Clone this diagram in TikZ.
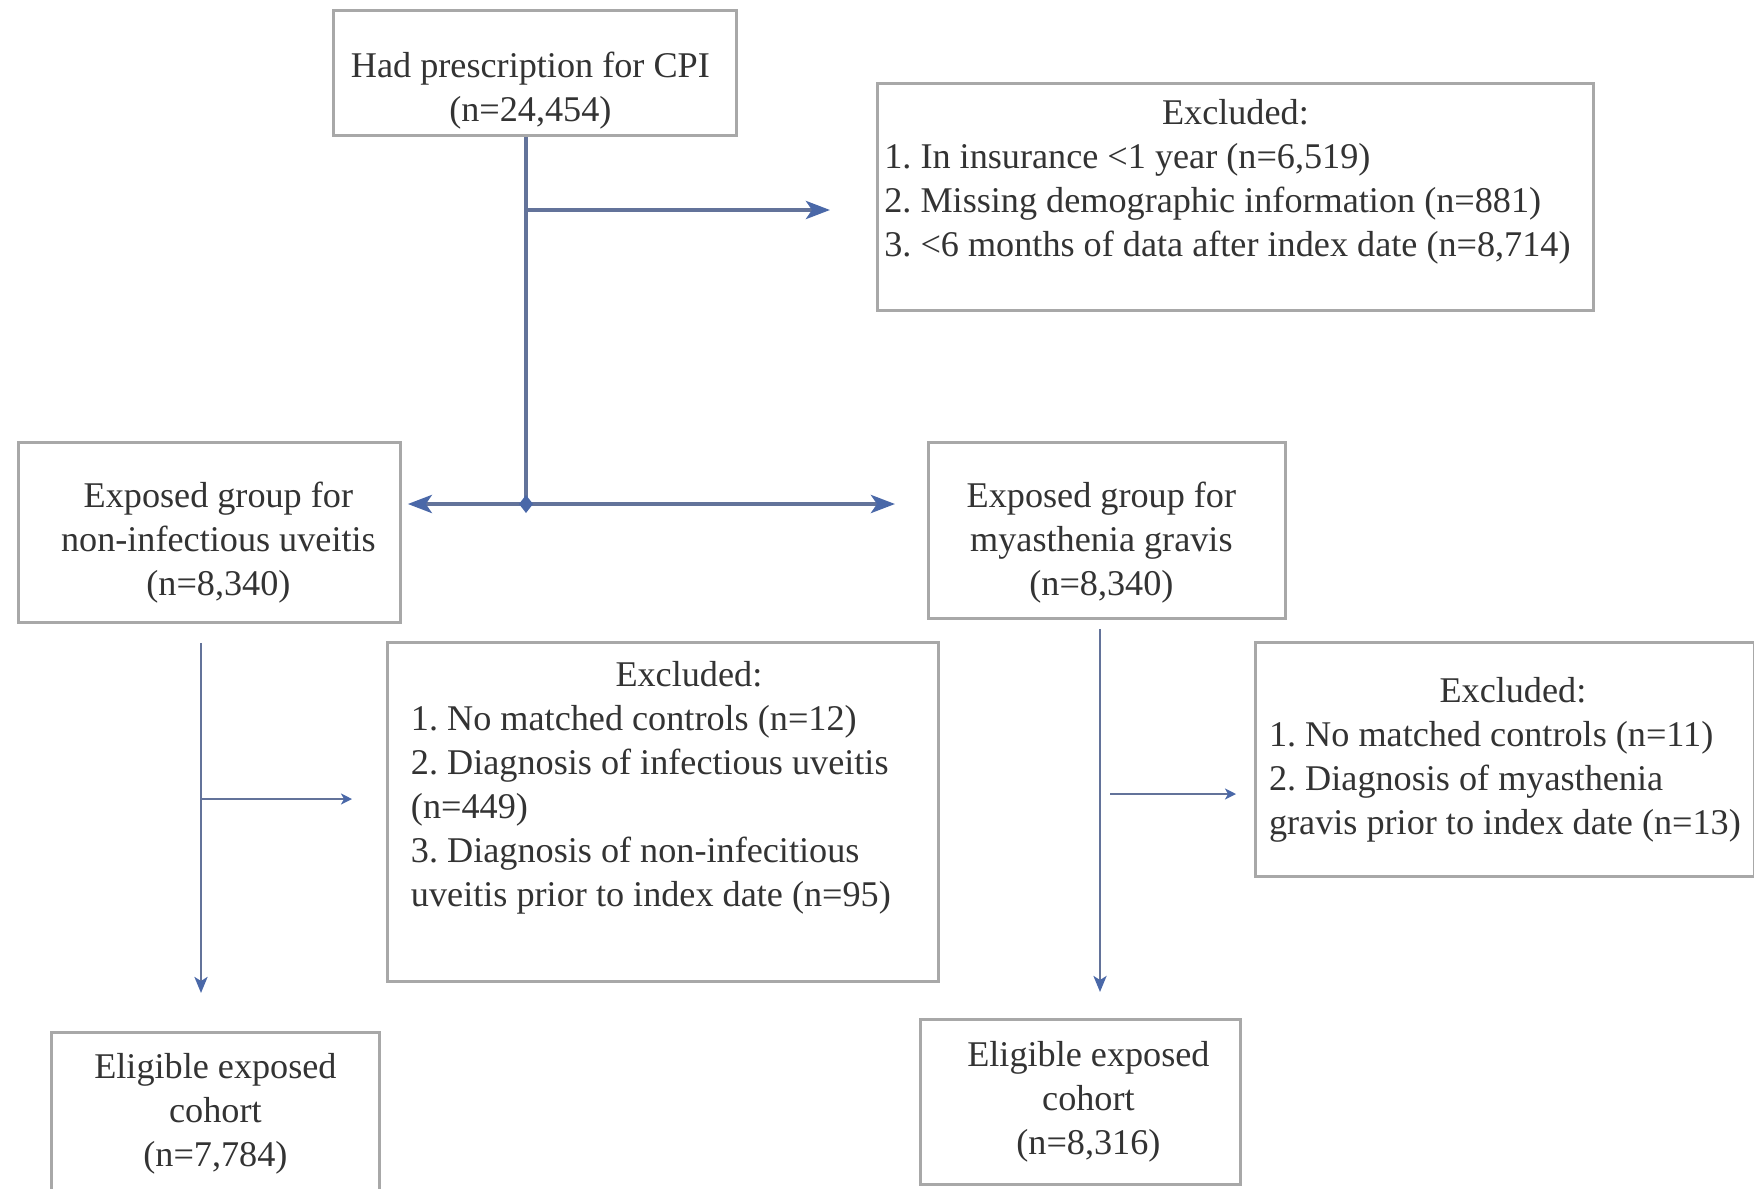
\documentclass[tikz,border=0pt]{standalone}
\usepackage{fontspec}
\setmainfont{Liberation Serif}
\usetikzlibrary{arrows.meta,calc}
\definecolor{linkblue}{HTML}{63739A}
\definecolor{tipblue}{HTML}{4A68A8}
\definecolor{boxgray}{HTML}{A8A8A8}
\definecolor{txtgray}{HTML}{333333}
\newcommand{\txtshift}[3]{\raisebox{-#2}[\height][\depth]{\hspace*{#1}#3\hspace*{-#1}}}
\frenchspacing
\begin{document}
\begin{tikzpicture}[x=0.1mm,y=-0.1mm,
  box/.style={draw=boxgray, line width=0.8pt, fill=white, align=center, text=txtgray,
    font=\fontsize{10.3}{12.5}\selectfont, anchor=north west, inner sep=0pt},
  mainline/.style={draw=linkblue, line width=1.2pt},
  flow/.style={mainline, -{Stealth[length=2.4mm,width=1.8mm,inset=0.6mm,color=tipblue]}},
  midflow/.style={draw=linkblue, line width=0.8pt, -{Stealth[length=1.6mm,width=1.3mm,inset=0.4mm,color=tipblue]}},
  thinflow/.style={draw=linkblue, line width=0.6pt, -{Stealth[length=1.1mm,width=1.1mm,inset=0.3mm,color=tipblue]}}]
\useasboundingbox (0,0) rectangle (1754,1188);
\clip (0,0) rectangle (1754,1188);

% boxes
\node[box, minimum width=40.3mm, minimum height=12.5mm] (cpi) at (332,9)
  {\txtshift{-0.45mm}{1.8mm}{\begin{tabular}{@{}c@{}}Had prescription for CPI\\(n=24,454)\end{tabular}}};
\node[box, minimum width=71.6mm, minimum height=22.7mm] (ex1) at (876,82)
  {\txtshift{-0.8mm}{0mm}{\begin{tabular}{@{}l@{}}\multicolumn{1}{@{}c@{}}{\hspace*{1.6mm}Excluded:}\\
   1. In insurance <1 year (n=6,519)\\
   2. Missing demographic information (n=881)\\
   3. <6 months of data after index date (n=8,714)\\[3mm]\end{tabular}}};
\node[box, minimum width=38.2mm, minimum height=18.0mm] (lbox) at (17,441)
  {\txtshift{0.9mm}{1.0mm}{\begin{tabular}{@{}c@{}}Exposed group for\\non-infectious uveitis\\(n=8,340)\end{tabular}}};
\node[box, minimum width=35.7mm, minimum height=17.6mm] (rbox) at (927,441)
  {\txtshift{-0.55mm}{1.2mm}{\begin{tabular}{@{}c@{}}Exposed group for\\myasthenia gravis\\(n=8,340)\end{tabular}}};
\node[box, minimum width=55.1mm, minimum height=33.9mm] (ex2) at (386,641)
  {\txtshift{-1.2mm}{0mm}{\begin{tabular}{@{}l@{}}\multicolumn{1}{@{}c@{}}{\hspace*{7.6mm}Excluded:}\\
   1. No matched controls (n=12)\\
   2. Diagnosis of infectious uveitis\\
   (n=449)\\
   3. Diagnosis of non-infecitious\\
   uveitis prior to index date (n=95)\\[4.8mm]\end{tabular}}};
\node[box, minimum width=49.9mm, minimum height=23.4mm] (ex3) at (1254,641)
  {\begin{tabular}{@{}l@{}}\multicolumn{1}{@{}c@{}}{\hspace*{1.6mm}Excluded:}\\
   1. No matched controls (n=11)\\
   2. Diagnosis of myasthenia\\
   gravis prior to index date (n=13)\end{tabular}};
\node[box, minimum width=32.8mm, minimum height=16.2mm] (lbot) at (50,1031)
  {Eligible exposed\\cohort\\(n=7,784)};
\node[box, minimum width=32.0mm, minimum height=16.5mm] (rbot) at (919,1018)
  {\txtshift{0.8mm}{0mm}{\begin{tabular}{@{}c@{}}Eligible exposed\\cohort\\(n=8,316)\end{tabular}}};

% connectors
\coordinate (j1) at (526,210);
\coordinate (j2) at (526,504);
\coordinate (lv) at (201,799);
\coordinate (rv) at (1100,794);

\draw[mainline] (cpi.south -| j1) -- (j2);
\draw[flow, shorten >=4.6mm] (j1) -- (j1 -| ex1.west);
\draw[flow, shorten >=0.6mm] (j2) -- (j2 -| lbox.east);
\draw[flow, shorten >=3.2mm] (j2) -- (j2 -| rbox.west);
\fill[tipblue] ($(j2)+(0,-9)$) -- ($(j2)+(7,0)$) -- ($(j2)+(0,9)$) -- ($(j2)+(-7,0)$) -- cycle;

\draw[midflow, shorten <=1.9mm, shorten >=3.8mm] (lbox.south -| lv) -- (lbot.north -| lv);
\draw[thinflow, shorten >=3.4mm] (lv) -- (lv -| ex2.west);

\draw[midflow, shorten <=0.9mm, shorten >=2.6mm] (rbox.south -| rv) -- (rbot.north -| rv);
\draw[thinflow, shorten <=1mm, shorten >=1.8mm] (rv) -- (rv -| ex3.west);
\end{tikzpicture}
\end{document}
